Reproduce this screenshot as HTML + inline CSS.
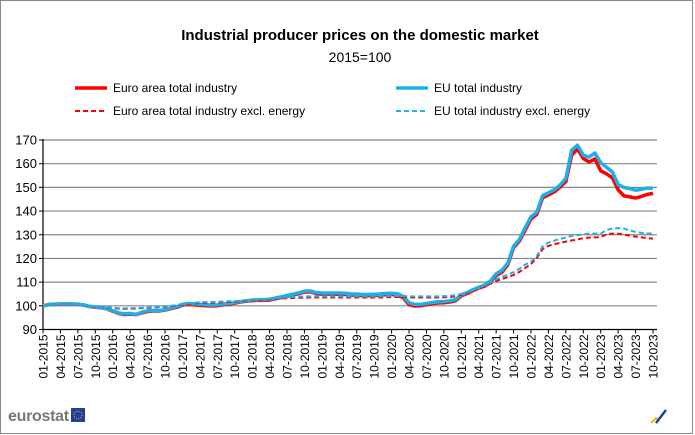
<!DOCTYPE html>
<html><head><meta charset="utf-8"><style>
body{margin:0;background:#fff;}
svg{display:block;font-family:"Liberation Sans",Arial,sans-serif;}
</style></head><body>
<svg id="chart" width="695" height="435" viewBox="0 0 695 435" xmlns="http://www.w3.org/2000/svg">
<rect x="0.5" y="0.5" width="692" height="433" fill="#fff" stroke="#888"/>
<text x="360" y="40" text-anchor="middle" font-size="15" font-weight="bold">Industrial producer prices on the domestic market</text>
<text x="360" y="62" text-anchor="middle" font-size="14">2015=100</text>
<g>
<g><line x1="75" y1="88" x2="107" y2="88" stroke="#ff0000" stroke-width="3.5"/><text x="113" y="92" font-size="12">Euro area total industry</text></g>
<g><line x1="396" y1="88" x2="428" y2="88" stroke="#1cb0e8" stroke-width="3.5"/><text x="434" y="92" font-size="12">EU total industry</text></g>
<g><line x1="75" y1="111" x2="107" y2="111" stroke="#ff0000" stroke-width="2" stroke-dasharray="5,3"/><text x="113" y="115" font-size="12">Euro area total industry excl. energy</text></g>
<g><line x1="396" y1="111" x2="428" y2="111" stroke="#1cb0e8" stroke-width="2" stroke-dasharray="5,3"/><text x="434" y="115" font-size="12">EU total industry excl. energy</text></g>
</g>
<g id="plot"></g>
<g>
<text x="8" y="421" font-size="16" fill="#777" font-weight="bold" letter-spacing="-0.3">eurostat</text>
<rect x="71" y="408" width="14" height="14" fill="#1f3f99"/>
<circle cx="78" cy="415" r="4" fill="none" stroke="#f5d000" stroke-width="1" stroke-dasharray="1,1.5"/>
</g>
<g>
<path d="M651 423 L656 418 L659 421" stroke="#f5c000" stroke-width="2" fill="none"/>
<path d="M656 423 L666 410" stroke="#1f3f99" stroke-width="2.5" fill="none"/>
</g>
</svg>
<script>
const startYear = 2015;
const yTicks = [90,100,110,120,130,140,150,160,170];
const euTotal = [
100,100.6,100.7,100.8,100.8,100.8,100.7,100.4,99.8,99.5,99.3,98.8,
97.9,97.0,96.6,96.8,96.4,97.3,97.9,98.0,98.0,98.4,99.0,99.6,
100.6,101.0,100.8,100.7,100.5,100.3,100.4,100.7,101.0,101.4,101.8,102.1,
102.4,102.6,102.6,102.7,103.3,103.8,104.4,104.9,105.5,106.2,106.3,105.6,
105.4,105.4,105.4,105.4,105.3,105.0,105.0,104.8,104.8,104.9,105.0,105.2,
105.3,105.1,104.0,101.3,100.6,100.6,101.0,101.4,101.7,101.8,102.1,102.6,
104.6,105.6,106.8,107.8,108.8,110.5,113.5,115.0,118.0,125.2,128.0,133.0,
137.6,139.5,146.5,147.7,149.0,151.0,153.8,165.7,167.8,163.6,162.8,164.5,
160.4,158.5,156.5,151.2,150.0,149.5,148.8,149.2,149.7,149.7];
const eaTotal = [
100,100.5,100.6,100.7,100.7,100.7,100.6,100.3,99.7,99.4,99.2,98.7,
97.7,96.8,96.3,96.5,96.3,97.0,97.6,97.8,97.8,98.2,98.8,99.3,
100.3,100.6,100.4,100.2,100.0,99.9,100.0,100.4,100.7,101.1,101.6,101.9,
102.2,102.3,102.3,102.4,103.0,103.5,104.1,104.6,105.1,105.8,105.9,105.2,
104.9,105.0,104.9,104.9,104.8,104.5,104.5,104.3,104.3,104.4,104.5,104.7,
104.8,104.5,103.4,100.5,99.9,100.0,100.5,100.9,101.2,101.3,101.6,102.1,
104.2,105.2,106.4,107.5,108.3,110.0,112.8,114.2,117.3,124.5,127.3,132.0,
136.7,138.6,145.6,146.8,148.1,150.1,152.5,163.6,166.2,162.2,160.7,162.0,
157.0,155.7,154.0,149.0,146.4,146.0,145.5,146.2,147.0,147.5];
const euExcl = [
100,100.4,100.6,100.7,100.7,100.6,100.5,100.2,99.9,99.7,99.6,99.4,
99.2,99.0,98.9,99.0,99.0,99.2,99.3,99.5,99.6,99.8,100.0,100.3,
100.8,101.1,101.3,101.5,101.6,101.6,101.7,101.8,101.9,102.0,102.2,102.4,
102.6,102.8,102.9,103.0,103.2,103.4,103.6,103.7,103.8,103.9,104.0,104.0,
104.0,104.0,104.0,104.0,104.0,104.0,104.0,104.0,104.0,104.0,104.0,104.1,
104.2,104.2,104.2,104.0,104.0,104.0,104.0,104.0,104.0,104.1,104.2,104.5,
105.0,105.7,106.6,107.6,108.6,109.8,111.2,112.2,113.1,114.2,115.6,117.4,
118.6,121.0,125.2,126.7,127.5,128.3,128.8,129.5,129.8,130.2,130.4,130.5,
130.5,132.0,132.6,132.8,132.6,131.8,131.2,130.8,130.6,130.5];
const eaExcl = [
100,100.4,100.6,100.7,100.7,100.6,100.5,100.2,99.8,99.6,99.5,99.3,
99.0,98.8,98.7,98.8,98.8,99.0,99.1,99.3,99.4,99.6,99.8,100.1,
100.5,100.8,101.0,101.2,101.3,101.3,101.4,101.5,101.6,101.7,101.9,102.1,
102.3,102.5,102.6,102.7,102.9,103.1,103.2,103.3,103.4,103.4,103.5,103.5,
103.5,103.5,103.5,103.5,103.5,103.5,103.5,103.5,103.5,103.5,103.5,103.6,
103.7,103.7,103.7,103.5,103.5,103.5,103.5,103.5,103.5,103.6,103.7,104.0,
104.6,105.3,106.2,107.2,108.2,109.3,110.5,111.3,112.1,113.0,114.3,116.0,
117.6,120.2,124.0,125.3,126.0,126.6,127.1,127.6,128.0,128.6,128.8,128.9,
129.0,130.2,130.5,130.4,130.1,129.6,129.2,128.9,128.6,128.3];

const NS='http://www.w3.org/2000/svg';
const plot=document.getElementById('plot');
const X0=43, X1=653, GX1=657, Y0=329.5, Y1=140;
const n=euTotal.length;
const xPos=i=>X0+i*(X1-X0)/(n-1);
const yPos=v=>Y0-(v-yTicks[0])*(Y0-Y1)/(yTicks[yTicks.length-1]-yTicks[0]);
function mk(tag,attrs){const e=document.createElementNS(NS,tag);for(const k in attrs)e.setAttribute(k,attrs[k]);return e;}
yTicks.forEach(v=>{
  if(v>yTicks[0]){const g=mk('line',{x1:X0,x2:GX1,y1:yPos(v),y2:yPos(v),stroke:'#888','stroke-width':1.2});
  
  
  plot.appendChild(g);}
  const tk=mk('line',{x1:X0-4,x2:X0,y1:yPos(v),y2:yPos(v),stroke:'#000'});plot.appendChild(tk);
  const t=mk('text',{x:X0-6,y:yPos(v)+4.5,'text-anchor':'end','font-size':13});
  t.textContent=v;
  
  
  plot.appendChild(t);
});
const ya=mk('line',{x1:X0,x2:X0,y1:Y1-1,y2:Y0,stroke:'#000','stroke-width':1.2});


plot.appendChild(ya);
const xa=mk('line',{x1:X0,x2:GX1,y1:Y0,y2:Y0,stroke:'#000','stroke-width':1.2});


plot.appendChild(xa);
for(let i=0;i<n;i+=3){
  const x=xPos(i);
  plot.appendChild(mk('line',{x1:x,x2:x,y1:Y0,y2:Y0+4,stroke:'#000'}));
  const m=(i%12)+1, yr=startYear+Math.floor(i/12);
  const t=mk('text',{x:0,y:0,'text-anchor':'end','font-size':12,transform:`translate(${x+4.5},${Y0+5}) rotate(-90)`});
  t.textContent=(m<10?'0':'')+m+'-'+yr;
  
  
  plot.appendChild(t);
}
function series(arr,color,w,dash,name){
  const p=mk('polyline',{points:arr.map((v,i)=>xPos(i).toFixed(2)+','+yPos(v).toFixed(2)).join(' '),fill:'none',stroke:color,'stroke-width':w,'stroke-linejoin':'round'});
  if(dash)p.setAttribute('stroke-dasharray',dash);
  
  
  plot.appendChild(p);
}
series(eaTotal,'#ff0000',3.5,null,'line-euro-area-total');
series(euTotal,'#1cb0e8',3.5,null,'line-eu-total');
series(eaExcl,'#ff0000',2,'5,3','line-euro-area-excl-energy');
series(euExcl,'#1cb0e8',2,'5,3','line-eu-excl-energy');
</script>
</body></html>
